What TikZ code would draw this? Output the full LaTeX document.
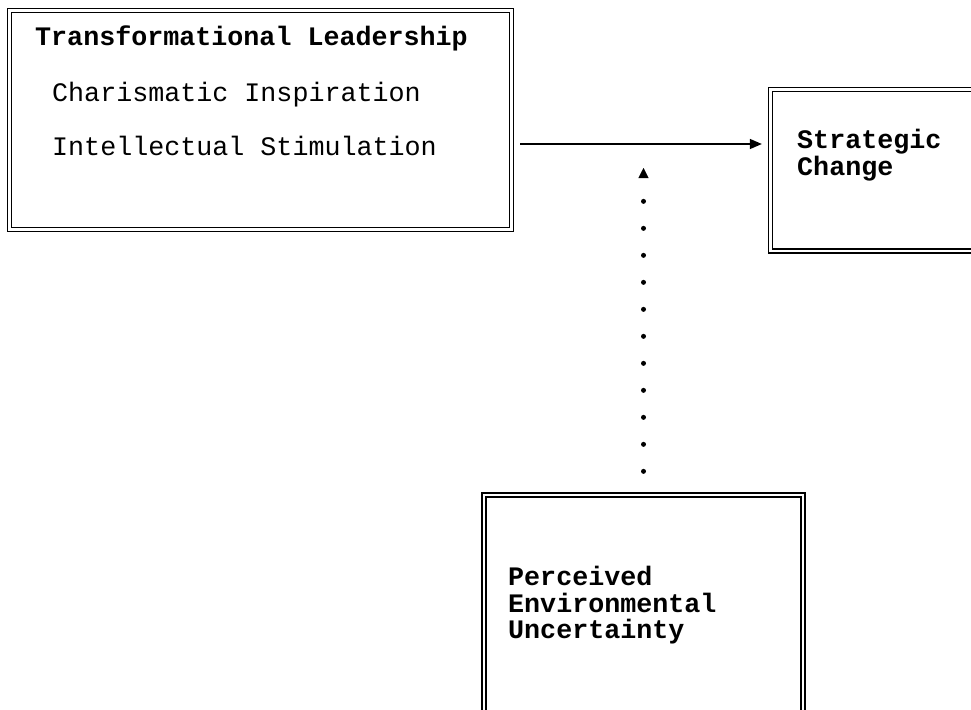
\documentclass[tikz,border=0pt]{standalone}
\usepackage{fontspec}
\usetikzlibrary{arrows.meta,positioning,calc}
\setmonofont{Liberation Mono}
\newfontfamily\boxfont{Liberation Mono}
\tikzset{
  dblbox/.style={draw=black, line width=1.3pt, double=white, double distance=2.6pt, inner sep=0pt},
  headtext/.style={anchor=base west, inner sep=0pt, font=\boxfont\bfseries\fontsize{26.7}{28}\selectfont},
  itemtext/.style={anchor=base west, inner sep=0pt, font=\boxfont\fontsize{26.7}{28}\selectfont},
  mainarrow/.style={-{Triangle[length=12pt,width=10pt]}, line width=1.4pt, shorten <=8pt, shorten >=8pt},
  dotarrow/.style={-{Triangle[length=10pt,width=10pt,line width=0.4pt]}, line width=5pt, line cap=round,
    dash pattern=on 0pt off 27pt, shorten <=23pt}
}
\begin{document}
\begin{tikzpicture}[x=1pt, y=-1pt]
\useasboundingbox (0,0) rectangle (971,709);
% boxes
\node[dblbox, minimum width=502pt, minimum height=219pt] (tl) at (260.5,120) {};
\node[dblbox, minimum width=229.5pt, minimum height=161.5pt] (sc) at (885.25,170.25) {};
\node[dblbox, minimum width=319pt, minimum height=245pt] (peu) at (643.5,617.5) {};
% texts
\node[headtext] (tltitle) at (35,46) {Transformational Leadership};
\node[itemtext] (charis) at (52,101) {Charismatic Inspiration};
\node[itemtext] (intell) at (52,155) {Intellectual Stimulation};
\node[headtext] (sctop) at (797,148) {Strategic};
\node[headtext] (scbot) at (797,175) {Change};
\node[headtext] (peu1) at (508,585) {Perceived};
\node[headtext] (peu2) at (508,612) {Environmental};
\node[headtext] (peu3) at (508,638) {Uncertainty};
% connectors
\coordinate (lvl) at (0,144);
\coordinate (tip) at (642,168);
\draw[mainarrow] (tl.east |- lvl) -- (sc.west |- lvl);
\draw[dotarrow] (peu.north) -- (peu.north |- tip);
\end{tikzpicture}
\end{document}
